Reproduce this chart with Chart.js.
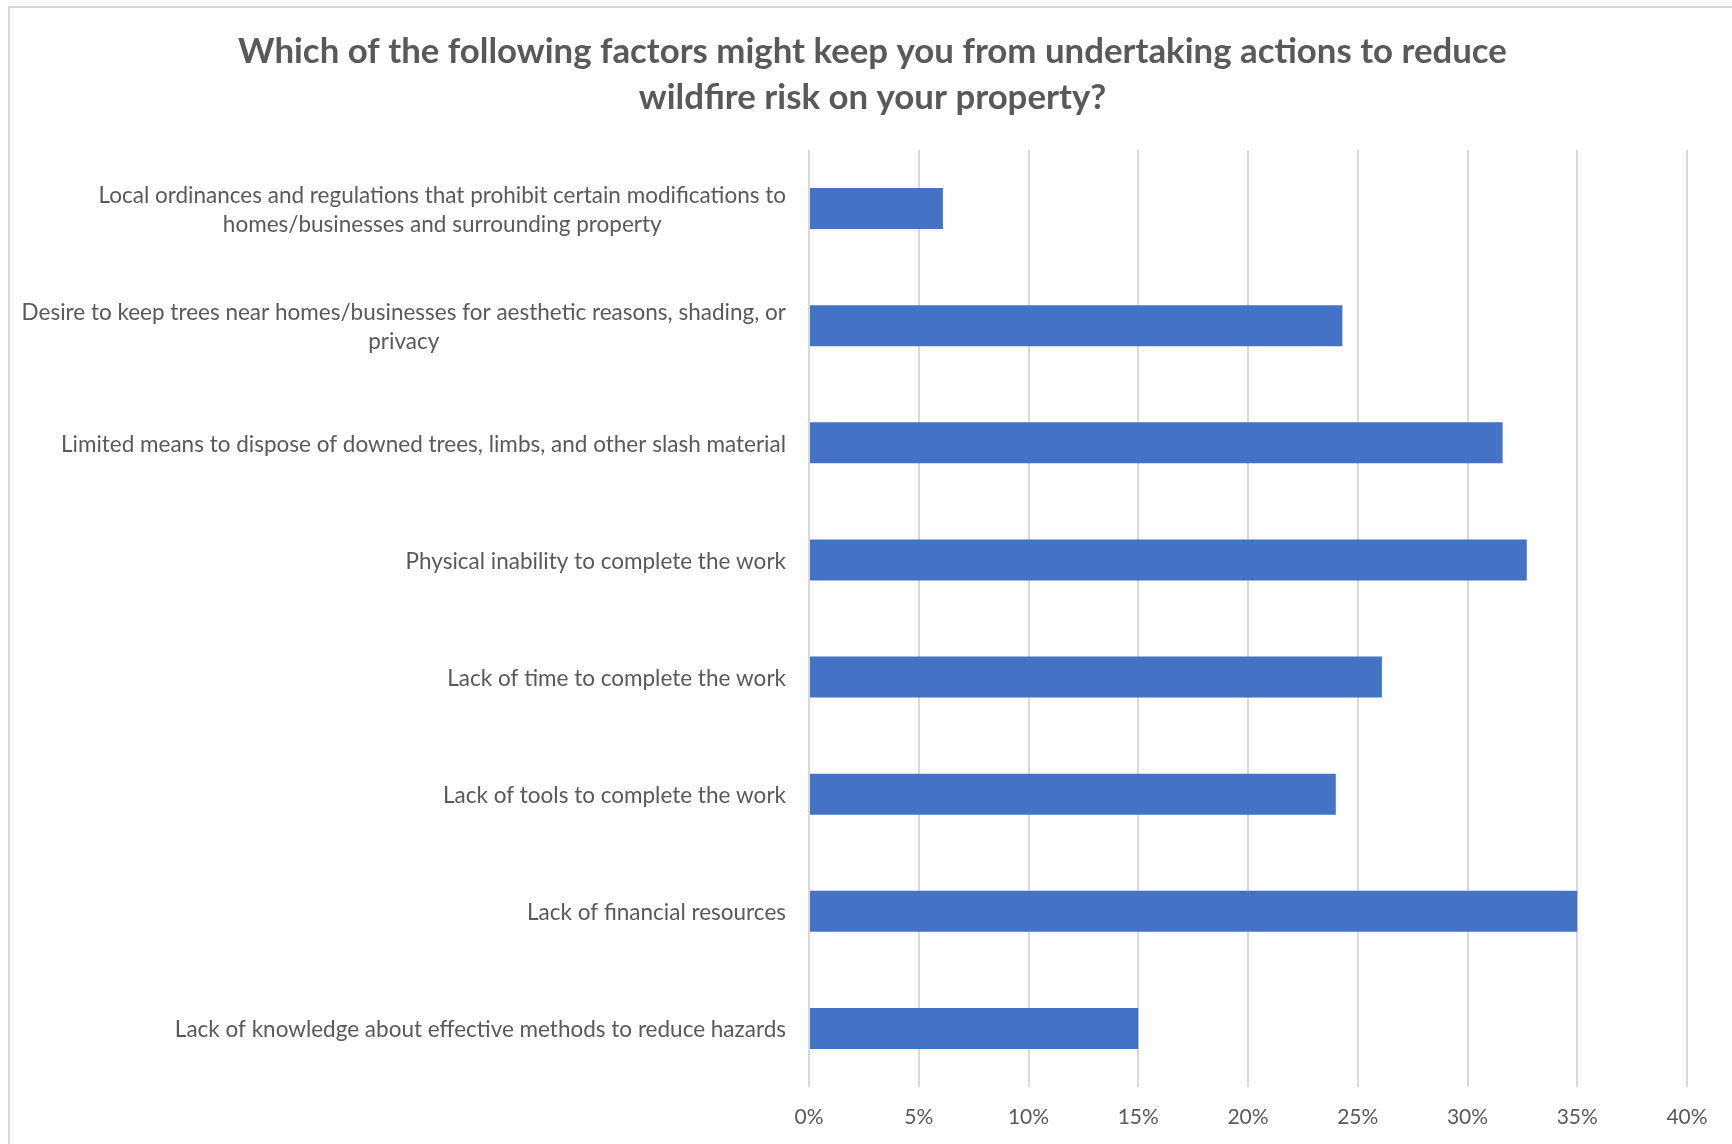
<!DOCTYPE html>
<html>
<head>
<meta charset="utf-8">
<title>Wildfire risk barriers</title>
<script src="https://cdn.jsdelivr.net/npm/chart.js@4.4.1/dist/chart.umd.min.js"></script>
<style>
  html, body { margin: 0; padding: 0; background: #ffffff; overflow: hidden; }
  #wrap { position: relative; width: 1732px; height: 1144px; }
  #frame {
    position: absolute; left: 8px; top: 6px; width: 1800px; height: 1200px;
    border-left: 2px solid #d9d9d9; border-top: 2px solid #d9d9d9;
    box-sizing: border-box; pointer-events: none;
  }
  canvas { position: absolute; left: 0; top: 0; }
</style>
</head>
<body>
<div id="wrap">
  <canvas id="chart" width="1732" height="1144"></canvas>
  <div id="frame"></div>
</div>
<script>
// Survey question
const titleLines = [
  'Which of the following factors might keep you from undertaking actions to reduce',
  'wildfire risk on your property?'
];

// Response categories, top to bottom (each entry = wrapped lines)
const categories = [
  ['Local ordinances and regulations that prohibit certain modifications to', 'homes/businesses and surrounding property'],
  ['Desire to keep trees near homes/businesses for aesthetic reasons, shading, or', 'privacy'],
  ['Limited means to dispose of downed trees, limbs, and other slash material'],
  ['Physical inability to complete the work'],
  ['Lack of time to complete the work'],
  ['Lack of tools to complete the work'],
  ['Lack of financial resources'],
  ['Lack of knowledge about effective methods to reduce hazards']
];

// Share of respondents (%)
const shares = [6.1, 24.3, 31.6, 32.7, 26.1, 24.0, 35.0, 15.0];

// Axis ticks (%)
const tickValues = [0, 5, 10, 15, 20, 25, 30, 35, 40];

const TEXT = '#595959';
const LABEL_FONT = '22.5px Lato';

// Category labels: block right-aligned against the plot, lines centred within the block
const categoryLabels = {
  id: 'categoryLabels',
  afterDraw(chart) {
    const ctx = chart.ctx;
    const y = chart.scales.y;
    const right = chart.chartArea.left - 23;
    const lineH = 29;
    ctx.save();
    ctx.font = LABEL_FONT;
    ctx.fillStyle = TEXT;
    ctx.textBaseline = 'middle';
    ctx.textAlign = 'center';
    categories.forEach((lines, i) => {
      const cy = y.getPixelForValue(i) + 1.5;
      const w = Math.max(...lines.map(l => ctx.measureText(l).width));
      const cx = right - w / 2;
      const y0 = cy - (lines.length - 1) * lineH / 2;
      lines.forEach((l, k) => ctx.fillText(l, cx, y0 + k * lineH));
    });
    ctx.restore();
  }
};

new Chart(document.getElementById('chart'), {
  type: 'bar',
  data: {
    labels: categories.map(c => c.join(' ')),
    datasets: [{
      data: shares,
      backgroundColor: '#4472c4',
      borderWidth: 0,
      categoryPercentage: 1.0,
      barPercentage: 0.35
    }]
  },
  options: {
    indexAxis: 'y',
    responsive: false,
    animation: false,
    layout: { padding: { left: 58, right: 45, top: 29, bottom: 0 } },
    plugins: {
      legend: { display: false },
      tooltip: { enabled: false },
      title: {
        display: true,
        text: titleLines,
        color: TEXT,
        font: { family: 'Lato', size: 34.8, weight: 'bold', lineHeight: 46 / 34.8 },
        padding: { top: 0, bottom: 29 }
      }
    },
    scales: {
      x: {
        type: 'linear',
        position: 'bottom',
        min: 0,
        max: 40,
        afterBuildTicks(scale) { scale.ticks = tickValues.map(v => ({ value: v })); },
        afterFit(scale) { scale.height = 57; },
        grid: { color: '#d9d9d9', lineWidth: 2, drawTicks: false },
        border: { display: false },
        ticks: {
          color: TEXT,
          font: { family: 'Lato', size: 21 },
          padding: 18,
          callback: v => v + '%'
        }
      },
      y: {
        afterFit(scale) { scale.width = 751; },
        grid: { display: false },
        border: { display: false },
        ticks: { display: false }
      }
    }
  },
  plugins: [categoryLabels]
});
</script>
</body>
</html>
